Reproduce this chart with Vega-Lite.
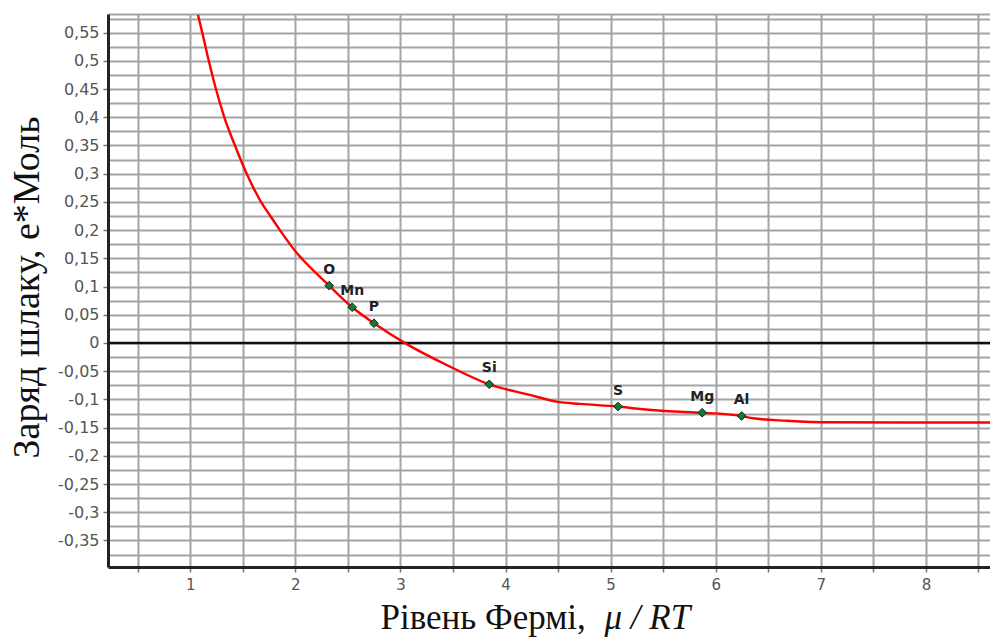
{
  "$schema": "https://vega.github.io/schema/vega-lite/v6.json",
  "width": 882,
  "height": 553,
  "autosize": {"type": "none"},
  "padding": {"left": 108, "top": 14, "right": 0, "bottom": 70},
  "background": "white",
  "config": {"view": {"stroke": null}},
  "datasets": {
    "curve": [
      {"x": 1.073, "y": 0.5816},
      {"x": 1.114, "y": 0.55},
      {"x": 1.176, "y": 0.5},
      {"x": 1.244, "y": 0.45},
      {"x": 1.324, "y": 0.4},
      {"x": 1.425, "y": 0.35},
      {"x": 1.537, "y": 0.3},
      {"x": 1.673, "y": 0.25},
      {"x": 1.762, "y": 0.225},
      {"x": 1.853, "y": 0.2},
      {"x": 1.99, "y": 0.165},
      {"x": 2.322, "y": 0.1016},
      {"x": 2.541, "y": 0.0633},
      {"x": 2.748, "y": 0.035},
      {"x": 3.06, "y": -0.002},
      {"x": 3.44, "y": -0.039},
      {"x": 3.845, "y": -0.0732},
      {"x": 4.232, "y": -0.092},
      {"x": 4.486, "y": -0.104},
      {"x": 4.708, "y": -0.108},
      {"x": 5.07, "y": -0.1126},
      {"x": 5.279, "y": -0.117},
      {"x": 5.66, "y": -0.122},
      {"x": 5.871, "y": -0.1236},
      {"x": 6.246, "y": -0.1294},
      {"x": 6.354, "y": -0.1335},
      {"x": 6.675, "y": -0.1378},
      {"x": 7.087, "y": -0.1406},
      {"x": 8.61, "y": -0.141}
    ],
    "elements": [
      {"el": "O", "x": 2.322, "y": 0.1016},
      {"el": "Mn", "x": 2.541, "y": 0.0633},
      {"el": "P", "x": 2.748, "y": 0.035},
      {"el": "Si", "x": 3.845, "y": -0.0732},
      {"el": "S", "x": 5.07, "y": -0.1126},
      {"el": "Mg", "x": 5.871, "y": -0.1236},
      {"el": "Al", "x": 6.246, "y": -0.1294}
    ],
    "zero": [{"y": 0}]
  },
  "resolve": {"axis": {"x": "independent"}},
  "layer": [
    {
      "data": {"name": "zero"},
      "mark": {"type": "rule", "color": "#111", "strokeWidth": 2.5},
      "encoding": {
        "y": {
          "field": "y", "type": "quantitative",
          "scale": {"domain": [-0.397, 0.583], "nice": false, "zero": false},
          "axis": {
            "values": [-0.375, -0.35, -0.325, -0.3, -0.275, -0.25, -0.225, -0.2, -0.175, -0.15, -0.125, -0.1, -0.075, -0.05, -0.025, 0, 0.025, 0.05, 0.075, 0.1, 0.125, 0.15, 0.175, 0.2, 0.225, 0.25, 0.275, 0.3, 0.325, 0.35, 0.375, 0.4, 0.425, 0.45, 0.475, 0.5, 0.525, 0.55, 0.575, 0.583],
            "tickCount": 200,
            "labelExpr": "abs(round(datum.value * 40)) % 2 == 0 && abs(datum.value * 40 - round(datum.value * 40)) < 0.01 ? ((datum.value < -0.0001 ? '-' : '') + replace(format(abs(datum.value), '.2~f'), '.', ',')) : ''",
            "labelFont": "DejaVu Sans", "labelFontSize": 16, "labelColor": "#555",
            "labelPadding": 4, "labelOverlap": false, "labelFlush": false, "labelBound": false,
            "tickSize": 5, "tickColor": "#777", "tickWidth": 1.5,
            "tickOpacity": {"condition": {"test": "abs(round(datum.value * 40)) % 2 == 0 && abs(datum.value * 40 - round(datum.value * 40)) < 0.01", "value": 1}, "value": 0},
            "domainColor": "#222", "domainWidth": 3,
            "grid": true, "gridColor": "#a4a4a4", "gridWidth": 2,
            "title": "Заряд шлаку, е*Моль",
            "titleFont": "Liberation Serif", "titleFontSize": 38, "titleFontWeight": "normal", "titleColor": "#111",
            "titleAngle": 270, "titleX": -70, "titleY": 273, "titleAlign": "center", "titleBaseline": "alphabetic"
          }
        }
      }
    },
    {
      "data": {"name": "curve"},
      "mark": {"type": "line", "color": "#ff0000", "strokeWidth": 2.4, "interpolate": "monotone", "clip": true},
      "encoding": {
        "x": {
          "field": "x", "type": "quantitative",
          "scale": {"domain": [0.217, 8.61], "nice": false, "zero": false},
          "axis": {
            "values": [0.5, 1, 1.5, 2, 2.5, 3, 3.5, 4, 4.5, 5, 5.5, 6, 6.5, 7, 7.5, 8, 8.5],
            "tickCount": 200,
            "labelExpr": "datum.value % 1 == 0 ? format(datum.value, 'd') : ''",
            "labelFont": "DejaVu Sans", "labelFontSize": 15, "labelColor": "#555",
            "labelPadding": 5, "labelDx": -2, "labelOverlap": false, "labelFlush": false, "labelBound": false,
            "tickSize": 5, "tickColor": "#777", "tickWidth": 1.5,
            "domainColor": "#222", "domainWidth": 3,
            "grid": true, "gridColor": "#a4a4a4", "gridWidth": 2,
            "title": "Рівень Фермі,",
            "titleFont": "Liberation Serif", "titleFontSize": 35, "titleFontWeight": "normal", "titleColor": "#111",
            "titleX": 272, "titleY": 61, "titleAlign": "left", "titleBaseline": "alphabetic", "titleAngle": 0
          }
        },
        "y": {"field": "y", "type": "quantitative"}
      }
    },
    {
      "data": {"name": "elements"},
      "mark": {"type": "point", "shape": "diamond", "filled": true, "size": 75, "fill": "#117a3a", "stroke": "#0a2a10", "strokeWidth": 1, "opacity": 1},
      "encoding": {
        "x": {
          "field": "x", "type": "quantitative",
          "axis": {
            "orient": "bottom", "labels": false, "ticks": false, "domain": false, "grid": false,
            "title": "μ / RT",
            "titleFont": "Liberation Serif", "titleFontSize": 35, "titleFontStyle": "italic", "titleFontWeight": "normal", "titleColor": "#111",
            "titleX": 496, "titleY": 61, "titleAlign": "left", "titleBaseline": "alphabetic", "titleAngle": 0
          }
        },
        "y": {"field": "y", "type": "quantitative"}
      }
    },
    {
      "data": {"name": "elements"},
      "mark": {"type": "text", "font": "DejaVu Sans", "fontSize": 14, "fontWeight": "bold", "color": "#222", "baseline": "middle", "align": "center", "dy": -16},
      "encoding": {
        "x": {"field": "x", "type": "quantitative", "axis": null},
        "y": {"field": "y", "type": "quantitative"},
        "text": {"field": "el", "type": "nominal"}
      }
    }
  ]
}
